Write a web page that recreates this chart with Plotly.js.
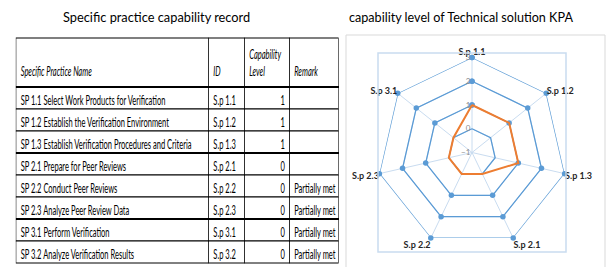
<!DOCTYPE html>
<html>
<head>
<meta charset="utf-8">
<script src="https://cdn.plot.ly/plotly-3.0.1.min.js"></script>
<style>html,body{margin:0;padding:0;background:#fff;}#chart{width:612px;height:267px;}</style>
</head>
<body>
<div id="chart"></div>
<script>
// ---- Table data ----
const spNames = [
  'SP 1.1 Select Work Products for Verification',
  'SP 1.2 Establish the Verification Environment',
  'SP 1.3 Establish Verification Procedures and Criteria',
  'SP 2.1 Prepare for Peer Reviews',
  'SP 2.2 Conduct Peer Reviews',
  'SP 2.3 Analyze Peer Review Data',
  'SP 3.1 Perform Verification',
  'SP 3.2 Analyze Verification Results'
];
const spIds = ['S.p 1.1','S.p 1.2','S.p 1.3','S.p 2.1','S.p 2.2','S.p 2.3','S.p 3.1','S.p 3.2'];
const capLevels = [1,1,1,0,0,0,0,0];
const remarks = ['','','','','Partially met','Partially met','Partially met','Partially met'];
const tableHeaders = ['\u00a0<br><i>Specific Practice Name</i>','\u00a0<br><i>ID</i>','<i>Capability</i><br><i>Level</i>','\u00a0<br><i>Remark</i>'];

// ---- Radar data ----
const radarCategories = ['S.p 1.1','S.p 1.2','S.p 1.3','S.p 2.1','S.p 2.2','S.p 2.3','S.p 3.1'];
const radarCapability = [1,1,1,0,0,0,0];
const refLevel3 = [3,3,3,3,3,3,3];
const refLevel2 = [2,2,2,2,2,2,2];
const refLevel1 = [1,1,1,1,1,1,1];
const refLevel0 = [0,0,0,0,0,0,0];

const W = 612, H = 267;
const px = v => v / W;
const py = v => 1 - v / H;

const SQUEEZE = 0.58;          // horizontal condensing of the table (narrow Calibri look)
const TABLE_X0 = 16, TABLE_W = 323;
const cellFont = 'Lato, "Liberation Sans", sans-serif';
const titleFont = 'Lato, "Liberation Sans", sans-serif';

function closed(a){ return a.concat([a[0]]); }
const noWrap = a => a.map(s => String(s).replace(/ /g, '\u00a0'));

const traces = [];
traces.push({
  type: 'table',
  domain: {x: [px(TABLE_X0), px(TABLE_X0 + TABLE_W / SQUEEZE)], y: [py(266), py(38)]},
  columnwidth: [193, 36, 45, 49],
  header: {
    values: tableHeaders,
    align: 'left',
    height: 49,
    line: {color: '#000', width: 1},
    fill: {color: '#fff'},
    font: {family: cellFont, size: 13, color: '#000'}
  },
  cells: {
    values: [noWrap(spNames), noWrap(spIds), capLevels, noWrap(remarks)],
    align: ['left','left','right','left'],
    height: 22,
    line: {color: '#000', width: 1},
    fill: {color: '#fff'},
    font: {family: cellFont, size: 13, color: '#000'}
  }
});

const blue = '#5b9bd5';
[refLevel3, refLevel2, refLevel1, refLevel0].forEach(lv => {
  traces.push({
    type: 'scatterpolar',
    r: closed(lv),
    theta: closed(radarCategories),
    mode: 'lines+markers',
    line: {color: blue, width: 1.3},
    marker: {color: blue, size: 5.5},
    hoverinfo: 'skip'
  });
});
traces.push({
  type: 'scatterpolar',
  r: closed(radarCapability),
  theta: closed(radarCategories),
  mode: 'lines',
  line: {color: '#ed7d31', width: 2},
  hoverinfo: 'skip'
});

const thickRows = [0, 3, 6];   // thick separator after header, after SP 1.3, after SP 2.3
const tableTop = 38, headerH = 49, rowH = 22;

const layout = {
  width: W, height: H,
  margin: {l: 0, r: 0, t: 0, b: 0},
  paper_bgcolor: '#fff',
  showlegend: false,
  polar: {
    domain: {x: [px(377), px(567)], y: [py(252), py(53)]},
    bgcolor: 'rgba(0,0,0,0)',
    gridshape: 'linear',
    radialaxis: {
      autorange: false, range: [-1, 3], tickmode: 'linear', tick0: 0, dtick: 1,
      angle: 90, tickangle: 90, side: 'counterclockwise',
      showline: false, ticks: '',
      layer: 'above traces',
      gridcolor: '#c9dcf0',
      tickfont: {family: titleFont, size: 8, color: '#8c8c8c'}
    },
    angularaxis: {
      rotation: 90, direction: 'clockwise',
      categoryorder: 'array', categoryarray: radarCategories,
      showline: false, ticks: '',
      gridcolor: '#c9dcf0',
      tickfont: {family: titleFont, size: 9, color: '#262626', weight: 'bold'}
    }
  },
  shapes: [
    {type:'rect', xref:'paper', yref:'paper', x0: px(346), x1: px(605), y0: py(280), y1: py(35), line:{color:'#d9d9d9', width:1}},
    {type:'rect', xref:'paper', yref:'paper', x0: px(378), x1: px(566), y0: py(252), y1: py(53), line:{color:'#c9dcf0', width:1.5}}
  ].concat(thickRows.map(k => ({
    type:'line', xref:'paper', yref:'paper',
    x0: px(TABLE_X0), x1: px(TABLE_X0 + TABLE_W),
    y0: py(tableTop + headerH + k * rowH), y1: py(tableTop + headerH + k * rowH),
    line:{color:'#000', width:2}
  }))),
  annotations: [
    {text: 'Specific practice capability record', xref:'paper', yref:'paper', x: px(156), y: py(17), xanchor:'center', yanchor:'middle', showarrow:false, font:{family: titleFont, size: 12.8, color:'#000'}},
    {text: 'capability level of Technical solution KPA', xref:'paper', yref:'paper', x: px(461), y: py(17), xanchor:'center', yanchor:'middle', showarrow:false, font:{family: titleFont, size: 12.6, color:'#000'}}
  ]
};

Plotly.newPlot('chart', traces, layout, {displayModeBar: false, staticPlot: true}).then(gd => {
  // condense the table horizontally, like the narrow font of the original
  gd.querySelectorAll('.main-svg g.table').forEach(g => {
    const t = g.getAttribute('transform') || '';
    g.setAttribute('transform', t + ' scale(' + SQUEEZE + ',1)');
  });
});
</script>
</body>
</html>
